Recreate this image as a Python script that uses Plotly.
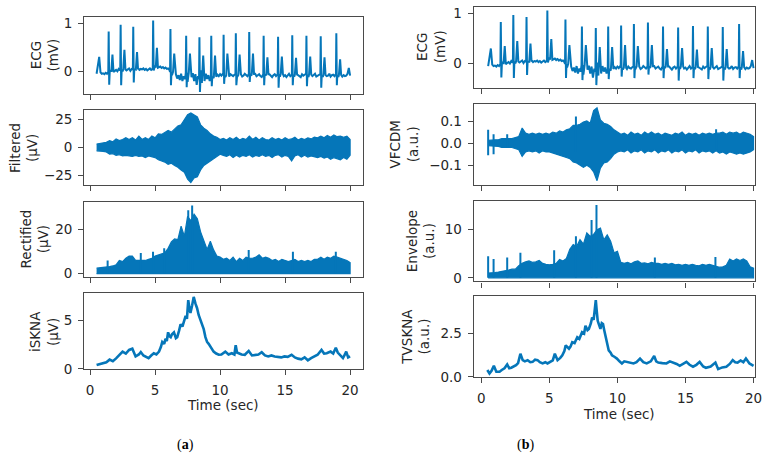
import numpy as np
import plotly.graph_objects as go

# ---------------- data ----------------
# ECG (same recording in both columns)
ecg_r_times = [1.43, 2.35, 3.32, 4.85, 6.18, 7.39, 8.41, 9.32, 10.27, 11.21,
               12.24, 13.35, 14.46, 15.55, 16.64, 17.74, 18.94]
ecg_r_amps = [0.83, 0.97, 0.93, 1.06, 0.88, 0.74, 0.71, 0.74, 0.76, 0.79,
              0.82, 0.74, 0.72, 0.75, 0.74, 0.73, 0.79]
ecg_s_amps = [-0.28, -0.29, -0.23, 0.02, -0.29, -0.33, -0.43, -0.31, -0.26, -0.29,
              -0.22, -0.29, -0.34, -0.29, -0.31, -0.34, -0.29]
ecg_t_amps = [0.35, 0.45, 0.40, 0.49, 0.37, 0.37, 0.33, 0.33, 0.37, 0.35,
              0.37, 0.29, 0.31, 0.28, 0.31, 0.29, 0.25]
# baseline samples every 0.1 s from 0.5 s to 20.0 s
ecg_base = [
    -0.05, 0.10, 0.30, -0.02, -0.05,
    -0.04, -0.06, -0.03, -0.05, -0.02, 0.01, 0.03, 0.00, 0.04, 0.01,
    0.03, 0.00, 0.05, 0.02, 0.06, 0.00, 0.05, 0.08, 0.02, 0.04,
    0.06, 0.01, 0.05, 0.03, 0.07, 0.04, 0.02, 0.06, 0.03, 0.05,
    0.04, 0.06, 0.03, 0.05, 0.02, 0.04, 0.06, 0.03, 0.05, 0.10,
    0.12, 0.09, 0.11, 0.08, 0.10, 0.07, 0.09, 0.06, 0.08, 0.05,
    0.06, 0.03, -0.02, -0.08, -0.05, -0.12, -0.06, -0.15, -0.08, -0.18,
    -0.05, -0.20, -0.10, -0.16, -0.02, -0.22, -0.08, -0.25, -0.12, -0.04,
    -0.20, -0.06, -0.28, -0.10, -0.18, 0.02, -0.24, -0.10, -0.20, -0.05,
    -0.16, -0.08, -0.20, -0.12, -0.06, -0.14, -0.08, -0.11, -0.07, -0.10,
    -0.06, -0.09, -0.05, -0.10, -0.12, -0.04, -0.08, -0.11, -0.06, -0.09,
    -0.10, -0.07, -0.05, -0.12, -0.08, -0.10, -0.06, -0.11, -0.09, -0.05,
    -0.08, -0.10, -0.06, -0.04, -0.09, -0.11, -0.07, -0.05, -0.10, -0.08,
    -0.06, -0.10, -0.12, -0.07, -0.05, -0.09, -0.11, -0.08, -0.06, -0.10,
    -0.12, -0.08, -0.06, -0.10, -0.07, -0.05, -0.11, -0.09, -0.06, -0.10,
    -0.08, -0.12, -0.07, -0.05, -0.10, -0.08, -0.06, -0.11, -0.09, -0.05,
    -0.08, -0.10, -0.12, -0.06, -0.09, -0.07, -0.05, -0.10, -0.12, -0.08,
    -0.06, -0.10, -0.08, -0.05, -0.11, -0.09, -0.07, -0.06, -0.10, -0.12,
    -0.08, -0.06, -0.10, -0.09, -0.05, -0.11, -0.08, -0.07, -0.10, -0.06,
    -0.09, -0.12, -0.10, -0.07, -0.11, -0.08, -0.10, -0.09, -0.05, 0.07,
    -0.09,
]
# beat shape template: time offsets from R peak
beat_offsets = [-0.03, 0.0, 0.04, 0.08, 0.20, 0.29, 0.37]

# envelope samples every 0.25 s from 0.5 s to 20.0 s
filtered_upper = [3, 3.5, 3.5, 4.5, 6, 5, 7.5, 6,
                  7, 8.5, 7, 8.5, 6.5, 10, 7, 8.5,
                  7, 10, 8.5, 12, 11.5, 13.5, 15, 13.5,
                  16, 19, 20, 24, 29, 30.5, 29, 27,
                  20, 17, 15, 12, 10, 9, 7, 8,
                  6.5, 8.5, 7, 9, 6.5, 8, 7, 10,
                  7, 9, 6.5, 8.5, 7, 6.5, 8.5, 7,
                  8, 6.5, 8.5, 7, 7.5, 9, 6.5, 8,
                  7, 8.5, 7.5, 9, 8.5, 10, 8.5, 10.5,
                  9, 11, 9.5, 10, 9, 10, 7]
filtered_lower = [-3, -3.5, -3.5, -4, -6, -5.5, -7, -6.5,
                  -7.5, -7, -7.5, -8, -7, -8, -7.5, -9,
                  -7.5, -8, -9, -11, -12, -13, -15, -14,
                  -16, -17.5, -20, -22, -28, -31, -27, -26,
                  -20, -16, -14, -12, -10, -8, -6, -7,
                  -8, -6.5, -9, -7, -8.5, -7, -8, -6.5,
                  -8.5, -7, -8, -6.5, -8, -7, -9, -7,
                  -6.5, -8.5, -7, -8, -12, -7.5, -6.5, -8.5,
                  -7, -8.5, -7.5, -8, -9, -8, -9.5, -8.5,
                  -10.5, -9, -10, -11, -9, -10.5, -7]
rectified_upper = [2.5, 2.6, 2.7, 3.0, 3.2, 3.5, 4, 6,
                   5.5, 7, 8, 8, 6, 6, 6, 6,
                   6.5, 7, 8, 8.5, 9, 9.5, 11.5, 14.4,
                   15.8, 15.5, 21.6, 17, 26, 24, 27, 25,
                   19, 15, 11, 14.7, 10.8, 8, 7.5, 6.5,
                   7, 6, 7.5, 5.5, 7, 6, 7.5, 7,
                   7, 7.5, 8.6, 7, 7.5, 7, 6, 6.5,
                   5.5, 6.5, 6, 5.5, 6, 6.5, 5.5, 6,
                   5.5, 6, 5.5, 6.5, 6.5, 7.5, 6.5, 7.5,
                   7, 8, 7.5, 7, 6.5, 6, 5]
rectified_spike_t = [1.35, 3.9, 4.84, 5.7, 7.55, 7.85, 12.2, 15.6, 18.9]
rectified_spike_v = [6, 9.4, 10, 11.5, 28.8, 31, 10.8, 10, 10]

vfcdm_upper = [0.012, 0.015, 0.015, 0.015, 0.02, 0.02, 0.02, 0.02,
               0.025, 0.03, 0.068, 0.045, 0.04, 0.045, 0.04, 0.045,
               0.04, 0.045, 0.04, 0.05, 0.045, 0.055, 0.05, 0.06,
               0.065, 0.08, 0.08, 0.085, 0.095, 0.1, 0.09, 0.147,
               0.16, 0.105, 0.09, 0.085, 0.075, 0.06, 0.05, 0.04,
               0.045, 0.035, 0.05, 0.04, 0.045, 0.035, 0.05, 0.04,
               0.05, 0.04, 0.045, 0.035, 0.045, 0.04, 0.035, 0.045,
               0.04, 0.05, 0.035, 0.045, 0.04, 0.045, 0.035, 0.045,
               0.04, 0.045, 0.04, 0.045, 0.045, 0.05, 0.04, 0.05,
               0.045, 0.05, 0.04, 0.05, 0.045, 0.04, 0.03]
vfcdm_lower = [-0.012, -0.015, -0.015, -0.015, -0.02, -0.02, -0.02, -0.02,
               -0.025, -0.03, -0.06, -0.04, -0.035, -0.04, -0.035, -0.045,
               -0.035, -0.04, -0.04, -0.045, -0.05, -0.055, -0.06, -0.065,
               -0.07, -0.085, -0.09, -0.1, -0.11, -0.1, -0.11, -0.13,
               -0.17, -0.113, -0.09, -0.085, -0.07, -0.05, -0.04, -0.035,
               -0.04, -0.03, -0.045, -0.035, -0.04, -0.03, -0.045, -0.035,
               -0.04, -0.03, -0.045, -0.035, -0.04, -0.03, -0.045, -0.035,
               -0.04, -0.03, -0.045, -0.035, -0.04, -0.03, -0.045, -0.035,
               -0.04, -0.035, -0.045, -0.035, -0.045, -0.04, -0.05, -0.04,
               -0.045, -0.05, -0.045, -0.05, -0.045, -0.04, -0.03]
vfcdm_spike_t = [0.5, 0.9, 1.9, 6.95, 17.25]
vfcdm_spike_hi = [0.06, 0.04, 0.04, 0.12, 0.063]
vfcdm_spike_lo = [-0.055, -0.05, -0.02, -0.04, -0.03]

envelope_upper = [1.0, 1.0, 1.1, 1.2, 1.3, 1.5, 1.6, 1.8,
                  1.8, 2.5, 3.0, 3.3, 3.5, 3.2, 3.3, 3.6,
                  3.0, 2.8, 2.7, 2.8, 3.0, 3.8, 3.5, 4.0,
                  5.9, 6.9, 6.5, 7.9, 7.0, 9.3, 8.6, 9,
                  10, 10.3, 7.9, 8.9, 7.6, 5.2, 5.5, 3.2,
                  3.0, 3.2, 2.9, 3.3, 3.5, 3.0, 3.1, 2.9,
                  3.2, 3.0, 3.0, 2.8, 3.0, 2.8, 3.0, 2.7,
                  2.8, 2.6, 2.8, 2.6, 2.8, 2.6, 2.5, 2.8,
                  2.6, 2.8, 2.6, 2.5, 2.2, 2.3, 2.6, 3.9,
                  3.5, 3.9, 3.6, 3.9, 3.5, 2.3, 2.0]
envelope_spike_t = [0.5, 0.9, 1.9, 2.87, 5.35, 6.95, 8.1, 8.46, 12.75, 17.2]
envelope_spike_v = [4.5, 3.9, 4.2, 5.2, 5.7, 8.6, 12, 15.1, 4.2, 4.3]

isk_t = [0.5, 0.75, 1.0, 1.25, 1.5, 1.75, 2.0, 2.25, 2.5, 2.75,
         3.0, 3.25, 3.5, 3.75, 3.9, 4.1, 4.3, 4.5, 4.7, 4.9,
         5.1, 5.3, 5.45, 5.55, 5.7, 5.8, 5.9, 6.0, 6.1, 6.2,
         6.3, 6.45, 6.6, 6.7, 6.85, 6.96, 7.1, 7.2, 7.35, 7.45,
         7.55, 7.65, 7.72, 7.85, 7.97, 8.1, 8.23, 8.35, 8.48, 8.6,
         8.74, 8.87, 9.0, 9.12, 9.25, 9.4, 9.5, 9.7, 9.9, 10.1,
         10.4, 10.65, 10.9, 11.1, 11.2, 11.3, 11.4, 11.65, 11.9, 12.2,
         12.45, 12.7, 12.95, 13.2, 13.45, 13.7, 13.95, 14.2, 14.45, 14.7,
         14.95, 15.2, 15.5, 15.75, 16.0, 16.25, 16.5, 16.75, 17.0, 17.25,
         17.5, 17.8, 18.0, 18.2, 18.35, 18.5, 18.7, 18.9, 19.05, 19.2,
         19.45, 19.6, 19.7, 19.85, 20.0]
isk_v = [0.4, 0.5, 0.63, 0.7, 0.97, 0.8, 1.1, 1.47, 1.8, 1.6,
         1.97, 2.1, 1.3, 1.5, 1.75, 1.4, 1.3, 1.13, 1.4, 1.63,
         1.5, 1.8, 2.3, 2.8, 2.6, 3.13, 2.9, 3.8, 3.4, 3.3,
         3.6, 3.8, 3.2, 3.3, 4.0, 4.63, 4.4, 4.97, 5.5, 5.2,
         7.13, 6.2, 5.8, 6.6, 7.47, 6.8, 6.3, 5.6, 5.13, 4.5,
         4.13, 3.3, 2.8, 2.6, 2.3, 2.0, 1.8, 1.6, 1.47, 1.5,
         1.8, 1.5, 1.63, 1.5, 2.47, 1.7, 1.63, 1.5, 1.47, 1.87,
         1.4, 1.47, 1.5, 1.73, 1.4, 1.3, 1.4, 1.3, 1.25, 1.2,
         1.3, 1.25, 1.47, 1.2, 1.07, 1.0, 1.2, 0.9, 1.13, 1.3,
         1.47, 1.97, 1.6, 1.63, 1.75, 1.8, 1.6, 2.2, 1.7, 1.47,
         1.13, 1.5, 1.8, 1.2, 1.3]

tv_t = [0.44, 0.6, 0.75, 0.92, 1.1, 1.34, 1.5, 1.7, 1.9, 2.05,
        2.2, 2.4, 2.55, 2.7, 2.87, 3.04, 3.2, 3.4, 3.6, 3.77,
        3.95, 4.13, 4.3, 4.5, 4.7, 4.86, 5.1, 5.25, 5.4, 5.6,
        5.8, 5.95, 6.1, 6.2, 6.44, 6.55, 6.68, 6.85, 7.05, 7.2,
        7.4, 7.55, 7.65, 7.8, 7.9, 8.05, 8.14, 8.25, 8.31, 8.41,
        8.48, 8.55, 8.65, 8.75, 8.85, 8.94, 9.03, 9.11, 9.25, 9.36,
        9.5, 9.6, 9.8, 9.96, 10.15, 10.33, 10.5, 10.7, 10.95, 11.18,
        11.4, 11.66, 11.9, 12.15, 12.45, 12.7, 12.85, 13.0, 13.3, 13.6,
        13.85, 14.1, 14.35, 14.58, 14.85, 15.07, 15.3, 15.55, 15.8, 16.04,
        16.3, 16.5, 16.85, 17.2, 17.4, 17.7, 18.0, 18.25, 18.47, 18.65,
        18.83, 19.05, 19.25, 19.44, 19.7, 19.85, 20.0]
tv_v = [0.4, 0.2, 0.35, 0.64, 0.3, 0.3, 0.4, 0.5, 0.72, 0.5,
        0.53, 0.6, 0.68, 0.8, 1.34, 0.97, 0.9, 0.97, 0.85, 0.87,
        1.0, 0.97, 0.85, 0.78, 0.85, 0.78, 0.87, 0.95, 1.34, 0.97,
        1.1, 1.25, 1.5, 1.82, 1.63, 1.75, 2.0, 1.95, 2.29, 2.2,
        2.58, 2.5, 2.95, 2.7, 2.77, 3.1, 3.43, 3.3, 3.71, 4.43,
        3.8, 3.24, 3.0, 2.77, 3.1, 3.05, 2.7, 2.39, 1.9, 1.53,
        1.4, 1.25, 1.15, 1.06, 0.9, 0.78, 0.9, 0.87, 0.8, 0.78,
        0.85, 1.06, 0.85, 0.78, 0.9, 1.21, 0.9, 0.83, 0.8, 0.78,
        0.9, 0.83, 0.75, 0.64, 0.75, 0.87, 0.7, 0.59, 0.7, 0.87,
        0.6, 0.53, 0.6, 0.83, 0.45, 0.55, 0.59, 0.75, 0.97, 0.85,
        0.83, 0.95, 0.85, 1.06, 0.78, 0.7, 0.64]

x_ticks = [0, 5, 10, 15, 20]

# ---------------- derived series ----------------
base_t = np.round(0.5 + 0.1 * np.arange(len(ecg_base)), 3)
base_v = np.array(ecg_base)
keep = np.ones(len(base_t), bool)
pts_t, pts_v = [], []
for tr, rv, sv, tv in zip(ecg_r_times, ecg_r_amps, ecg_s_amps, ecg_t_amps):
    keep &= ~(((base_t > tr + beat_offsets[0] - 0.005) & (base_t < tr + beat_offsets[3] + 0.005)) |
              ((base_t > tr + beat_offsets[4] - 0.005) & (base_t < tr + beat_offsets[6] + 0.005)))
    b = float(np.interp(tr, base_t, base_v))
    vals = [b, rv, sv, b, b, tv, b]
    for o, v in zip(beat_offsets, vals):
        pts_t.append(tr + o)
        pts_v.append(v)
all_t = np.concatenate([base_t[keep], pts_t])
all_v = np.concatenate([base_v[keep], pts_v])
order = np.argsort(all_t, kind="stable")
ecg_t = all_t[order]
ecg_v = all_v[order]

env_t = 0.5 + 0.25 * np.arange(len(filtered_upper))
band_x = np.concatenate([env_t, env_t[::-1]])


def spikes(ts, lo, hi):
    xs, ys = [], []
    for t, a, b in zip(ts, lo, hi):
        xs += [t, t, None]
        ys += [a, b, None]
    return xs, ys


# ---------------- figure ----------------
W, H = 781, 465
BLUE = "#0576B9"
TXT = "#262626"
FRAME = "#4a4a4a"
FONT = "DejaVu Sans"
FS = 13.5

fig = go.Figure()


def add(trace, k):
    trace.update(xaxis="x" if k == 1 else f"x{k}", yaxis="y" if k == 1 else f"y{k}")
    fig.add_trace(trace)


def band(upper, lower, k):
    add(go.Scatter(x=band_x, y=np.concatenate([upper, np.asarray(lower)[::-1]]),
                   mode="lines", fill="toself", fillcolor=BLUE,
                   line=dict(color=BLUE, width=1.2)), k)


def spike_trace(ts, lo, hi, k):
    sx, sy = spikes(ts, lo, hi)
    add(go.Scatter(x=sx, y=sy, mode="lines", line=dict(color=BLUE, width=2)), k)


# left column
add(go.Scatter(x=ecg_t, y=ecg_v, mode="lines", line=dict(color=BLUE, width=2)), 1)
band(filtered_upper, filtered_lower, 2)
band(rectified_upper, np.zeros(len(rectified_upper)), 3)
spike_trace(rectified_spike_t, [0] * len(rectified_spike_t), rectified_spike_v, 3)
add(go.Scatter(x=isk_t, y=isk_v, mode="lines", line=dict(color=BLUE, width=2.6)), 4)
# right column
add(go.Scatter(x=ecg_t, y=ecg_v, mode="lines", line=dict(color=BLUE, width=2)), 5)
band(vfcdm_upper, vfcdm_lower, 6)
spike_trace(vfcdm_spike_t, vfcdm_spike_lo, vfcdm_spike_hi, 6)
band(envelope_upper, np.zeros(len(envelope_upper)), 7)
spike_trace(envelope_spike_t, [0] * len(envelope_spike_t), envelope_spike_v, 7)
add(go.Scatter(x=tv_t, y=tv_v, mode="lines", line=dict(color=BLUE, width=2.6)), 8)

left_x = [85, 366]
right_x = [478, 762]
rows_left = [(15, 93.5), (110, 187), (204, 280.5), (297, 374.5)]
rows_right = [(5, 87.3), (104, 186.7), (203.3, 285), (300, 382.7)]
yranges = [[-0.465, 1.137], [-33.6, 33.2], [-1.55, 32.55], [-0.03, 7.85],
           [-0.48, 1.13], [-0.19, 0.177], [-0.76, 15.86], [-0.02, 4.66]]
ytickvals = [[0, 1], [-25, 0, 25], [0, 20], [0, 5],
             [0, 1], [-0.1, 0.0, 0.1], [0, 10], [0, 2.5]]
ytickfmt = ["", "", "", "", "", ".1f", "", ".1f"]

axis_common = dict(showline=True, linecolor=FRAME, linewidth=1.2, mirror=True,
                   ticks="outside", ticklen=5, tickwidth=1.2, tickcolor=FRAME,
                   showgrid=False, zeroline=False,
                   tickfont=dict(family=FONT, size=FS, color=TXT))
lay = {}
for k in range(1, 9):
    left = k <= 4
    xd = left_x if left else right_x
    top, bot = (rows_left if left else rows_right)[(k - 1) % 4]
    xname = "xaxis" if k == 1 else f"xaxis{k}"
    yname = "yaxis" if k == 1 else f"yaxis{k}"
    lay[xname] = dict(axis_common, domain=[xd[0] / W, xd[1] / W],
                      range=[-0.45, 20.97] if left else [-0.56, 20.12],
                      tickvals=x_ticks, showticklabels=(k % 4 == 0),
                      ticklabelstandoff=3,
                      anchor="y" if k == 1 else f"y{k}")
    lay[yname] = dict(axis_common, domain=[1 - bot / H, 1 - top / H],
                      range=yranges[k - 1], tickvals=ytickvals[k - 1],
                      tickformat=ytickfmt[k - 1], ticklabelstandoff=3,
                      anchor="x" if k == 1 else f"x{k}")

ylabels = [("ECG<br>(mV)", 45, 54), ("Filtered<br>(µV)", 23.5, 148.5),
           ("Rectified<br>(µV)", 35.5, 242), ("iSKNA<br>(µV)", 45, 336),
           ("ECG<br>(mV)", 435, 46), ("VFCDM<br>(a.u.)", 408, 145),
           ("Envelope<br>(a.u.)", 424.7, 244), ("TVSKNA<br>(a.u.)", 420, 341)]
ann = []
for txt, px, py in ylabels:
    ann.append(dict(text=txt, x=px / W, y=1 - py / H, xref="paper", yref="paper",
                    xanchor="center", yanchor="middle", textangle=-90, showarrow=False,
                    font=dict(family=FONT, size=FS, color=TXT)))
for px, py in [(225, 411), (625, 420)]:
    ann.append(dict(text="Time (sec)", x=px / W, y=1 - py / H, xref="paper", yref="paper",
                    xanchor="center", yanchor="middle", showarrow=False,
                    font=dict(family=FONT, size=FS, color=TXT)))
for txt, px in [("(<b>a</b>)", 187), ("(<b>b</b>)", 530)]:
    ann.append(dict(text=txt, x=px / W, y=1 - 452 / H, xref="paper", yref="paper",
                    xanchor="center", yanchor="middle", showarrow=False,
                    font=dict(family="Liberation Serif", size=14, color="#000000")))

fig.update_layout(width=W, height=H, margin=dict(l=0, r=0, t=0, b=0),
                  paper_bgcolor="white", plot_bgcolor="white", showlegend=False,
                  annotations=ann, **lay)

fig.write_html("out.html")
